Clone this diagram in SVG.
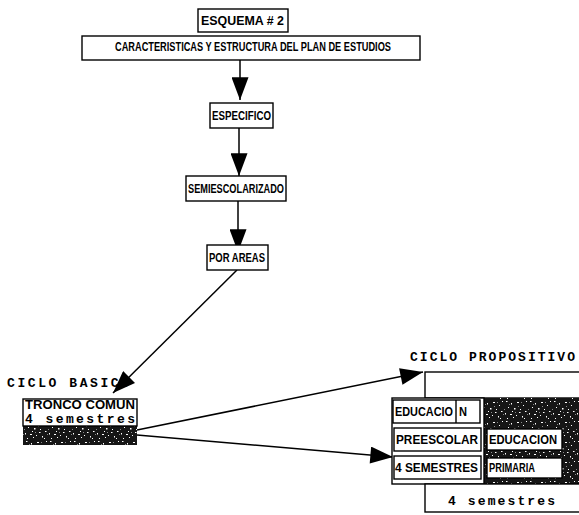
<svg xmlns="http://www.w3.org/2000/svg" width="579" height="515" viewBox="0 0 579 515">
<style>
.bx{fill:#fff;stroke:#000;stroke-width:1.4}
.lb{font-family:"Liberation Sans",Arial,sans-serif;font-weight:bold;font-size:12px;fill:#000}
.tw{font-family:"Liberation Mono","Courier New",monospace;font-weight:bold;font-size:13px;fill:#000}
.ln{fill:none;stroke:#000;stroke-width:1.5}
</style>
<defs>
<marker id="ah" viewBox="0 0 24 18" refX="24" refY="9" markerWidth="24" markerHeight="17" markerUnits="userSpaceOnUse" orient="auto">
<path d="M0,0 L24,9 L0,18 Z" fill="#000"/>
</marker>
<pattern id="tex" width="24" height="20" patternUnits="userSpaceOnUse">
<rect width="24" height="20" fill="#161616"/>
<g fill="#fff">
<rect x="2" y="1" width="1.5" height="1"/><rect x="7" y="3" width="1" height="1.5"/><rect x="13" y="2" width="2" height="1"/>
<rect x="19" y="5" width="1" height="1"/><rect x="4" y="7" width="1" height="1"/><rect x="10" y="8" width="1.5" height="1.5"/>
<rect x="16" y="9" width="1" height="1"/><rect x="21" y="11" width="1.5" height="1"/><rect x="1" y="13" width="1" height="1.5"/>
<rect x="6" y="14" width="2" height="1"/><rect x="12" y="15" width="1" height="1"/><rect x="18" y="16" width="1" height="1.5"/>
<rect x="3" y="18" width="1" height="1"/><rect x="9" y="17" width="1" height="1"/><rect x="15" y="12" width="1.5" height="1"/>
<rect x="22" y="1" width="1" height="1"/><rect x="8" y="11" width="1" height="1"/><rect x="20" y="18" width="1" height="1"/>
</g>
<g fill="#888">
<rect x="5" y="4" width="1" height="1"/><rect x="17" y="2" width="1" height="1"/><rect x="11" y="12" width="1" height="1"/>
<rect x="14" y="6" width="1" height="1"/><rect x="23" y="14" width="1" height="1"/><rect x="0" y="9" width="1" height="1"/>
</g>
</pattern>
</defs>

<g id="connectors">
<line class="ln" x1="240" y1="60" x2="240" y2="100" marker-end="url(#ah)"/>
<line class="ln" x1="239" y1="128" x2="239" y2="176" marker-end="url(#ah)"/>
<line class="ln" x1="238" y1="201" x2="238" y2="252" marker-end="url(#ah)"/>
<line class="ln" x1="237" y1="270" x2="113" y2="393" marker-end="url(#ah)"/>
<line class="ln" x1="137" y1="430" x2="423" y2="372" marker-end="url(#ah)"/>
<line class="ln" x1="137" y1="435" x2="393" y2="457" marker-end="url(#ah)"/>
</g>

<g id="esquema">
<rect class="bx" x="198" y="9" width="90" height="23"/>
<text class="lb" x="201" y="25" textLength="83" lengthAdjust="spacingAndGlyphs">ESQUEMA # 2</text>
</g>

<g id="caracteristicas">
<rect class="bx" x="82" y="36" width="338" height="24"/>
<text class="lb" x="115" y="51" font-size="8.5" textLength="276" lengthAdjust="spacingAndGlyphs">CARACTERISTICAS Y ESTRUCTURA DEL PLAN DE ESTUDIOS</text>
</g>

<g id="especifico">
<rect class="bx" x="210" y="103" width="63" height="25"/>
<text class="lb" x="212" y="120" textLength="59" lengthAdjust="spacingAndGlyphs">ESPECIFICO</text>
</g>

<g id="semiescolarizado">
<rect class="bx" x="186" y="176" width="100" height="25"/>
<text class="lb" x="188" y="193" textLength="96" lengthAdjust="spacingAndGlyphs">SEMIESCOLARIZADO</text>
</g>

<g id="por-areas">
<rect class="bx" x="207" y="245" width="61" height="25"/>
<text class="lb" x="209" y="262" textLength="56" lengthAdjust="spacingAndGlyphs">POR AREAS</text>
</g>

<g id="ciclo-basico">
<text class="tw" x="7" y="387" textLength="122" lengthAdjust="spacing">CICLO BASICO</text>
<rect x="23" y="426" width="114" height="19" fill="url(#tex)"/>
<rect class="bx" x="23" y="399" width="114" height="27"/>
<text class="lb" x="25" y="409" font-size="10.5" textLength="110" lengthAdjust="spacingAndGlyphs">TRONCO COMUN</text>
<text class="tw" x="25" y="423" font-size="10" textLength="110" lengthAdjust="spacing">4 semestres</text>
</g>

<g id="ciclo-propositivo">
<text class="tw" x="410" y="361" textLength="165" lengthAdjust="spacing">CICLO PROPOSITIVO</text>
<rect class="bx" x="425" y="372" width="160" height="26"/>
<rect x="484" y="398" width="96" height="86" fill="url(#tex)"/>
<rect class="bx" x="392" y="398" width="92" height="86"/>
<rect class="bx" x="393" y="400" width="87" height="23"/>
<line x1="456" y1="400" x2="456" y2="423" stroke="#000" stroke-width="1.4"/>
<text class="lb" x="395" y="416" textLength="58" lengthAdjust="spacingAndGlyphs">EDUCACIO</text>
<text class="lb" x="459" y="416" textLength="8" lengthAdjust="spacingAndGlyphs">N</text>
<rect class="bx" x="394" y="428" width="87" height="23"/>
<text class="lb" x="396" y="444" textLength="82" lengthAdjust="spacingAndGlyphs">PREESCOLAR</text>
<rect class="bx" x="394" y="456" width="87" height="23"/>
<text class="lb" x="395" y="472" textLength="83" lengthAdjust="spacingAndGlyphs">4 SEMESTRES</text>
<rect class="bx" x="487" y="429" width="75" height="21"/>
<text class="lb" x="489" y="444" textLength="68" lengthAdjust="spacingAndGlyphs">EDUCACION</text>
<rect class="bx" x="487" y="458" width="75" height="20"/>
<text class="lb" x="489" y="472" textLength="46" lengthAdjust="spacingAndGlyphs">PRIMARIA</text>
<rect class="bx" x="425" y="484" width="160" height="28"/>
<text class="tw" x="448" y="505" textLength="107" lengthAdjust="spacing">4 semestres</text>
</g>
</svg>
